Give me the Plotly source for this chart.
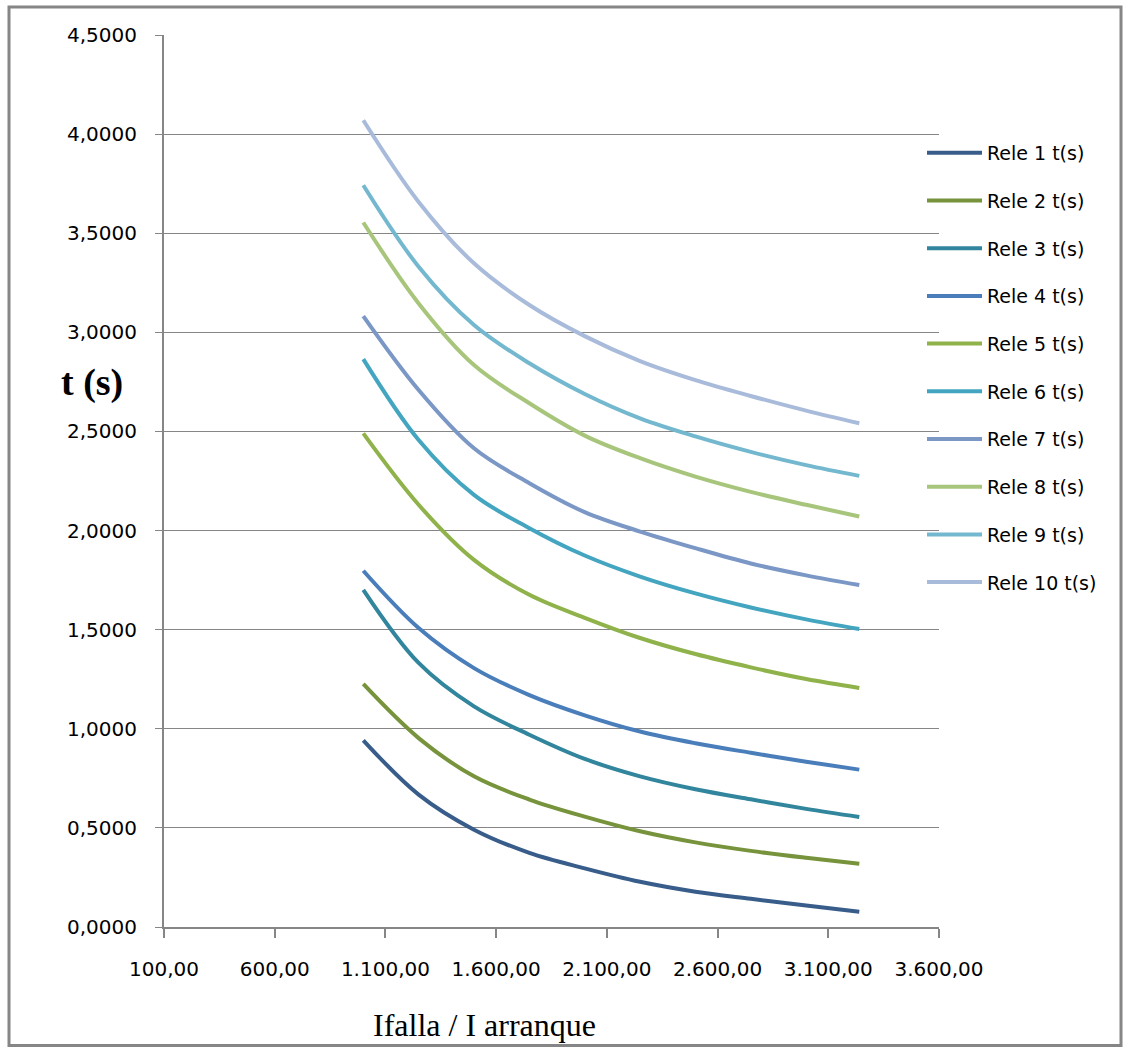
import plotly.graph_objects as go

# Fault current relative to pickup current
corriente = [1000, 1250, 1500, 1750, 2000, 2250, 2500, 2750, 3000, 3240]

# Operating time of each relay, t(s)
rele_1 = [0.942, 0.668, 0.491, 0.374, 0.296, 0.228, 0.178, 0.142, 0.108, 0.077]
rele_2 = [1.226, 0.953, 0.760, 0.643, 0.557, 0.483, 0.427, 0.384, 0.349, 0.319]
rele_3 = [1.701, 1.332, 1.113, 0.970, 0.848, 0.760, 0.695, 0.644, 0.596, 0.555]
rele_4 = [1.797, 1.508, 1.306, 1.170, 1.068, 0.986, 0.927, 0.879, 0.834, 0.794]
rele_5 = [2.490, 2.130, 1.852, 1.676, 1.560, 1.458, 1.377, 1.310, 1.251, 1.206]
rele_6 = [2.865, 2.457, 2.180, 2.012, 1.874, 1.768, 1.683, 1.612, 1.552, 1.503]
rele_7 = [3.082, 2.709, 2.415, 2.239, 2.093, 1.995, 1.911, 1.834, 1.774, 1.725]
rele_8 = [3.554, 3.146, 2.835, 2.642, 2.479, 2.365, 2.272, 2.195, 2.130, 2.071]
rele_9 = [3.742, 3.331, 3.037, 2.844, 2.689, 2.566, 2.475, 2.397, 2.330, 2.276]
rele_10 = [4.070, 3.658, 3.348, 3.138, 2.981, 2.855, 2.759, 2.679, 2.605, 2.541]

series_names = ["Rele 1 t(s)", "Rele 2 t(s)", "Rele 3 t(s)", "Rele 4 t(s)", "Rele 5 t(s)",
                "Rele 6 t(s)", "Rele 7 t(s)", "Rele 8 t(s)", "Rele 9 t(s)", "Rele 10 t(s)"]
series_values = [rele_1, rele_2, rele_3, rele_4, rele_5, rele_6, rele_7, rele_8, rele_9, rele_10]
series_colors = ["#385D8A", "#77933C", "#31859C", "#4A7EBB", "#8FB24B",
                 "#43A5C0", "#7A97C6", "#A8C57C", "#74B8CF", "#A9BBDA"]

y_ticks = [0, 0.5, 1.0, 1.5, 2.0, 2.5, 3.0, 3.5, 4.0, 4.5]
x_ticks = [100, 600, 1100, 1600, 2100, 2600, 3100, 3600]

W, H = 1127, 1049
L, R, T, B = 164, 939, 35, 927.5

fig = go.Figure()
for i, (name, vals, col) in enumerate(zip(series_names, series_values, series_colors)):
    fig.add_trace(go.Scatter(
        x=corriente, y=vals, name=name, mode="lines",
        line=dict(color=col, width=4, shape="spline", smoothing=1.0),
        legendgroup=f"g{i}",
    ))

grey = "#868686"
tick_font = dict(family="DejaVu Sans", size=20, color="#000000")


def px_x(p):
    return (p - L) / (R - L)


def px_y(p):
    return (B - p) / (B - T)


fig.update_layout(
    width=W, height=H,
    margin=dict(l=L, r=W - R, t=T, b=H - B, pad=0),
    paper_bgcolor="white", plot_bgcolor="white",
    separators=",.",
    showlegend=True,
    legend=dict(
        x=px_x(922), y=px_y(134), xanchor="left", yanchor="top",
        font=dict(family="DejaVu Sans", size=19, color="#000000"),
        tracegroupgap=20, bgcolor="rgba(0,0,0,0)", itemwidth=55,
    ),
    xaxis=dict(
        range=[100, 3600], tickvals=x_ticks, tickformat=",.2f",
        showgrid=False, zeroline=False,
        showline=True, linecolor=grey, linewidth=2,
        ticks="outside", ticklen=9, tickcolor=grey, tickwidth=2,
        tickfont=tick_font, ticklabelstandoff=14,
    ),
    yaxis=dict(
        range=[0, 4.5], tickvals=y_ticks, tickformat=".4f",
        showgrid=True, gridcolor=grey, gridwidth=1,
        zeroline=False,
        showline=True, linecolor=grey, linewidth=2,
        ticks="outside", ticklen=7, tickcolor=grey, tickwidth=1,
        tickfont=tick_font, ticklabelstandoff=14,
    ),
    annotations=[
        dict(text="<b>t (s)</b>", xref="paper", yref="paper",
             x=px_x(92), y=px_y(383), xanchor="center", yanchor="middle",
             showarrow=False,
             font=dict(family="Liberation Serif", size=38, color="#000000")),
        dict(text="Ifalla / I arranque", xref="paper", yref="paper",
             x=px_x(484), y=px_y(1026), xanchor="center", yanchor="middle",
             showarrow=False,
             font=dict(family="Liberation Serif", size=32, color="#000000")),
    ],
    shapes=[
        dict(type="rect", xref="paper", yref="paper",
             x0=px_x(9), x1=px_x(1121), y0=px_y(1046), y1=px_y(7),
             line=dict(color=grey, width=3), fillcolor="rgba(0,0,0,0)", layer="below"),
    ],
)

fig.write_html("out.html")
